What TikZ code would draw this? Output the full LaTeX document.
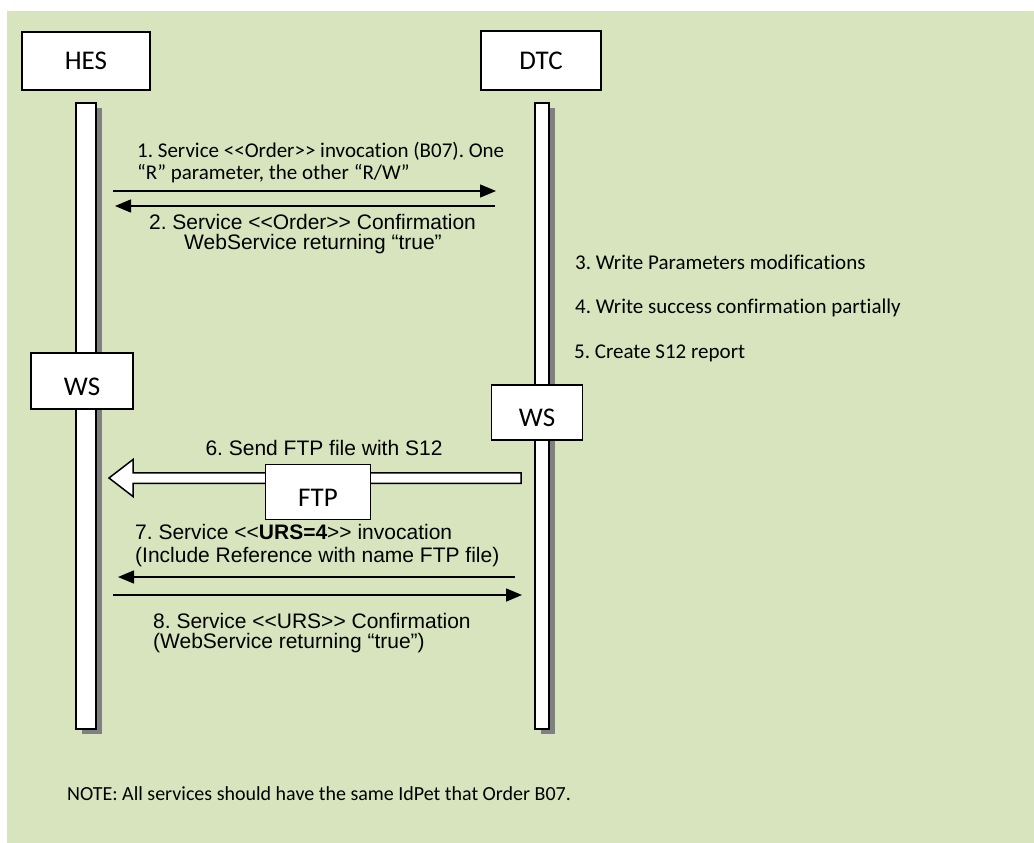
\documentclass[tikz,border=0pt]{standalone}
\usepackage{fontspec}
\setmainfont{Carlito}[Ligatures={TeX,NoCommon}]
\newfontfamily\arialfont{Liberation Sans}
\usetikzlibrary{arrows.meta,calc}
\definecolor{panel}{HTML}{D7E4BD}
\definecolor{shadowgray}{HTML}{808080}
% double angle brackets kept apart so they stay two glyphs each
\newcommand\dlt{<\kern0pt<}
\newcommand\dgt{>\kern0pt>}
\frenchspacing
\begin{document}
\begin{tikzpicture}[x=1pt,y=-1pt,line join=miter,
  boxline/.style={draw=black,line width=1.5pt,fill=white,inner sep=0pt},
  actorbox/.style={boxline,font=\fontsize{27}{32}\selectfont},
  lifebar/.style={boxline,minimum height=626pt},
  barshadow/.style={fill=shadowgray,draw=none,inner sep=0pt,minimum height=626pt},
  calibritext/.style={font=\fontsize{21}{25}\selectfont,inner sep=0pt},
  arialtext/.style={font=\arialfont\fontsize{21}{25}\selectfont,inner sep=0pt},
  msg/.style={line width=1.5pt,-{Triangle[length=16pt,width=13pt]}},
  blockarrow/.style={draw=black,line width=1.5pt,fill=white},
]
\useasboundingbox (0,0) rectangle (1034,843);
\fill[panel] (7,11) rectangle (1034,843);

% participants
\node[actorbox,minimum width=128pt,minimum height=58pt] (hes) at (86,61) {HES};
\node[actorbox,minimum width=120pt,minimum height=59pt] (dtc) at (541,60.5) {DTC};

% lifelines with drop shadows
\node[barshadow,minimum width=20pt] (hesshadow) at (92,421) {};
\node[lifebar,minimum width=20pt] (hesbar) at (86,416) {};
\node[barshadow,minimum width=14pt] (dtcshadow) at (548,421) {};
\node[lifebar,minimum width=14pt] (dtcbar) at (542,416) {};

% web service boxes
\node[actorbox,minimum width=102pt,minimum height=56pt,text height=29pt] (wshes) at (82,381) {WS};
\node[actorbox,minimum width=91pt,minimum height=55pt,text height=29pt] (wsdtc) at (537,412.5) {WS};

% 1 / 2: order invocation and confirmation
\coordinate (m1from) at (113,191);
\coordinate (m1to) at (496,191);
\coordinate (m2from) at (495,206);
\coordinate (m2to) at (115,206);
\draw[msg] (m1from) -- (m1to);
\draw[msg] (m2from) -- (m2to);
\node[calibritext,anchor=base west] (m1a) at (137,157) {1. Service \dlt Order\dgt{} invocation (B07). One};
\node[calibritext,anchor=base west] (m1b) at (137,179) {“R” parameter, the other “R/W”};
\node[arialtext,anchor=base] (m2a) at (312.5,229) {2. Service \dlt Order\dgt{} Confirmation};
\node[arialtext,anchor=base] (m2b) at (313,249.5) {WebService returning “true”};

% DTC internal steps
\node[calibritext,anchor=base west] (s3) at (575,269) {3. Write Parameters modifications};
\node[calibritext,anchor=base west] (s4) at (575,313) {4. Write success confirmation partially};
\node[calibritext,anchor=base west] (s5) at (574,358) {5. Create S12 report};

% 6: FTP transfer (block arrow)
\coordinate (ftpstart) at (521,478);
\coordinate (ftpend) at (109,478);
\draw[blockarrow] ($(ftpstart)+(0,-5.25)$) -- ($(ftpend)+(24,-5.25)$) -- ($(ftpend)+(24,-18.5)$)
  -- (ftpend) -- ($(ftpend)+(24,18.5)$) -- ($(ftpend)+(24,5.25)$) -- ($(ftpstart)+(0,5.25)$) -- cycle;
\node[actorbox,minimum width=105pt,minimum height=55pt,text height=29pt] (ftp) at (318,492) {FTP};
\node[arialtext,anchor=base] (m6) at (324,455) {6. Send FTP file with S12};

% 7 / 8: URS invocation and confirmation
\coordinate (m7from) at (515,577);
\coordinate (m7to) at (118,577);
\coordinate (m8from) at (113,595);
\coordinate (m8to) at (522,595);
\draw[msg] (m7from) -- (m7to);
\draw[msg] (m8from) -- (m8to);
\node[arialtext,anchor=base west] (m7a) at (135,539) {7. Service \dlt\textbf{URS=4}\dgt{} invocation};
\node[arialtext,anchor=base west] (m7b) at (135,562) {(Include Reference with name FTP file)};
\node[arialtext,anchor=base west] (m8a) at (153,628) {8. Service \dlt URS\dgt{} Confirmation};
\node[arialtext,anchor=base west] (m8b) at (153,648.5) {(WebService returning “true”)};

% footnote
\node[calibritext,font=\fontsize{20}{24}\selectfont,anchor=base west] (note) at (67,800) {NOTE: All services should have the same IdPet that Order B07.};
\end{tikzpicture}
\end{document}
